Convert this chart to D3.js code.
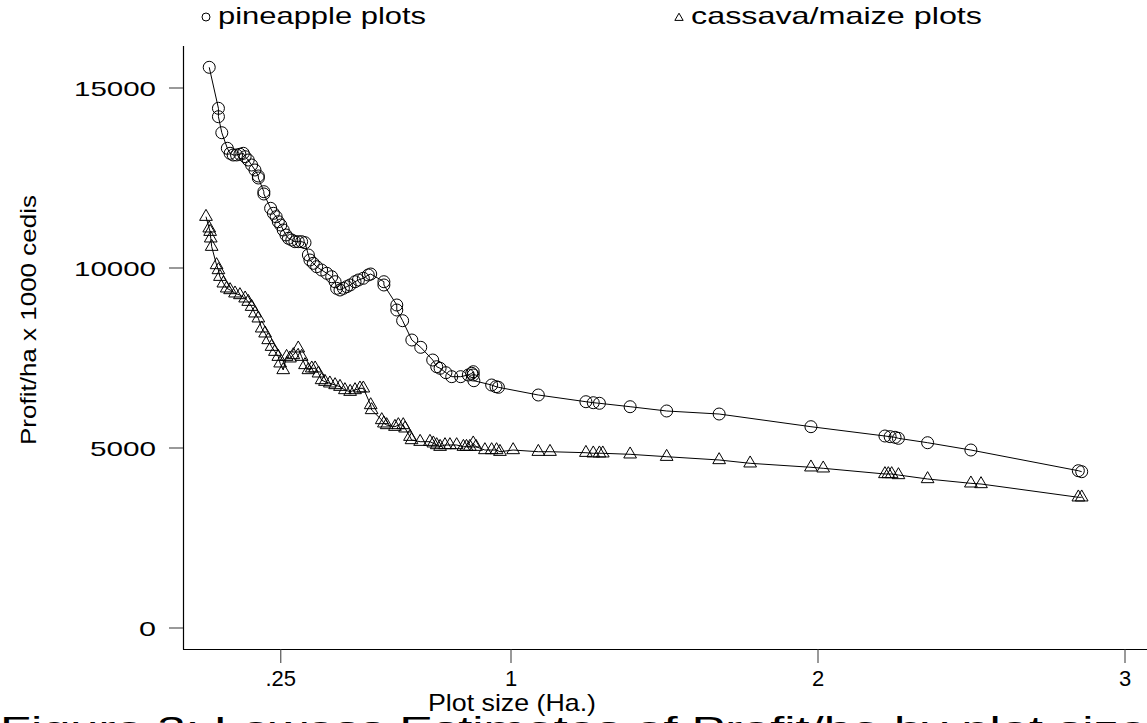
<!DOCTYPE html>
<html><head><meta charset="utf-8">
<script src="https://cdn.jsdelivr.net/npm/d3@7"></script>
<style>body{margin:0;background:#fff;} svg{display:block;}</style>
</head><body>
<svg id="c" width="1147" height="723"></svg>
<script>
// Pineapple plots: plot size (ha) and smoothed profit/ha (x1000 cedis)
const pineSize = [0.017,0.047,0.047,0.058,0.076,0.085,0.095,0.106,0.117,0.128,0.134,0.144,0.155,0.166,0.177,0.177,0.195,0.195,0.217,0.226,0.235,0.242,0.250,0.258,0.267,0.275,0.286,0.296,0.307,0.318,0.329,0.340,0.345,0.356,0.367,0.383,0.400,0.416,0.427,0.432,0.443,0.454,0.465,0.476,0.492,0.503,0.519,0.535,0.543,0.586,0.586,0.628,0.628,0.647,0.677,0.706,0.745,0.758,0.769,0.788,0.807,0.836,0.861,0.872,0.877,0.877,0.879,0.937,0.951,0.959,1.089,1.244,1.268,1.288,1.388,1.507,1.678,1.977,2.218,2.235,2.251,2.262,2.357,2.498,2.848,2.859];
const pineProfit = [15575,14436,14203,13758,13325,13186,13139,13140,13160,13186,13092,13000,12861,12722,12556,12500,12120,12056,11658,11519,11425,11286,11194,11056,10917,10825,10778,10731,10731,10731,10703,10361,10222,10130,10036,9944,9853,9758,9619,9436,9389,9436,9481,9528,9619,9667,9714,9806,9833,9619,9528,8972,8833,8536,8000,7797,7444,7258,7214,7092,6981,6981,7028,7075,7119,7028,6869,6750,6703,6686,6472,6286,6258,6242,6147,6028,5944,5592,5333,5314,5297,5269,5147,4944,4369,4342];
// Cassava/maize plots
const cassSize = [0.0065,0.017,0.020,0.022,0.025,0.041,0.047,0.052,0.063,0.074,0.085,0.101,0.117,0.134,0.144,0.155,0.166,0.177,0.188,0.199,0.209,0.220,0.231,0.242,0.248,0.258,0.269,0.280,0.291,0.307,0.318,0.329,0.340,0.351,0.362,0.373,0.383,0.394,0.410,0.427,0.443,0.459,0.476,0.492,0.508,0.519,0.543,0.546,0.579,0.586,0.595,0.622,0.633,0.649,0.655,0.671,0.676,0.704,0.736,0.747,0.758,0.769,0.785,0.801,0.823,0.845,0.855,0.866,0.877,0.886,0.915,0.937,0.953,0.964,1.007,1.089,1.127,1.244,1.268,1.288,1.299,1.388,1.507,1.678,1.779,1.977,2.017,2.218,2.229,2.240,2.262,2.357,2.498,2.531,2.848,2.859];
const cassProfit = [11425,11103,11008,10825,10592,10083,9944,9758,9575,9436,9389,9297,9250,9158,9064,8925,8742,8603,8325,8186,8000,7814,7675,7536,7353,7167,7536,7492,7583,7769,7536,7306,7167,7214,7214,7075,6889,6842,6797,6750,6703,6611,6564,6611,6658,6658,6194,6056,5778,5686,5639,5592,5639,5639,5547,5314,5222,5175,5175,5131,5083,5036,5083,5083,5083,5036,5036,5036,5131,5036,4944,4944,4944,4897,4944,4897,4897,4869,4853,4853,4853,4825,4758,4667,4575,4464,4436,4278,4278,4278,4250,4139,4019,4000,3631,3631];
const xTicks = [0.25, 1, 2, 3];
const xTickLabels = [".25", "1", "2", "3"];
const yTicks = [0, 5000, 10000, 15000];
const yTickLabels = ["0", "5000", "10000", "15000"];
const seriesNames = ["pineapple plots", "cassava/maize plots"];

const svg = d3.select("#c");
const x = d3.scaleLinear().domain([0, 3]).range([204, 1125]);
const y = d3.scaleLinear().domain([0, 15000]).range([628, 88]);
const FONT = "'Liberation Sans', Arial, sans-serif";

function txt(s, px, py, size, width, anchor) {
  const t = svg.append("text").attr("x", px).attr("y", py)
    .attr("font-family", FONT).attr("font-size", size)
    .attr("text-anchor", anchor || "start").attr("fill", "#000").text(s);
  if (width) t.attr("textLength", width).attr("lengthAdjust", "spacingAndGlyphs");
  return t;
}

// axes lines
svg.append("line").attr("x1", 183.5).attr("x2", 183.5).attr("y1", 46).attr("y2", 649.5).attr("stroke", "#000").attr("stroke-width", 1.2);
svg.append("line").attr("x1", 183).attr("x2", 1147).attr("y1", 649.5).attr("y2", 649.5).attr("stroke", "#000").attr("stroke-width", 1.2);

// y ticks
const yWidths = {"0": 17, "5000": 66, "10000": 82, "15000": 82};
yTicks.forEach((v, i) => {
  svg.append("line").attr("x1", 169).attr("x2", 183).attr("y1", y(v)).attr("y2", y(v)).attr("stroke", "#555").attr("stroke-width", 1.2);
  txt(yTickLabels[i], 156, y(v) + 7.5, 21, yWidths[yTickLabels[i]], "end");
});
// x ticks
xTicks.forEach((v, i) => {
  svg.append("line").attr("x1", x(v)).attr("x2", x(v)).attr("y1", 649.5).attr("y2", 663).attr("stroke", "#555").attr("stroke-width", 1.2);
  txt(xTickLabels[i], x(v), 686, 22, null, "middle");
});

// axis titles
txt("Plot size (Ha.)", 512, 711, 24, 168, "middle");
svg.append("text").attr("transform", "translate(36,320) rotate(-90)")
  .attr("font-family", FONT).attr("font-size", 22).attr("text-anchor", "middle")
  .attr("textLength", 250).attr("lengthAdjust", "spacingAndGlyphs")
  .text("Profit/ha x 1000 cedis");

// lines
const line = d3.line().x(d => x(d[0])).y(d => y(d[1]));
const pine = pineSize.map((s, i) => [s, pineProfit[i]]);
const cass = cassSize.map((s, i) => [s, cassProfit[i]]);
[pine, cass].forEach(data => {
  svg.append("path").datum(data).attr("d", line).attr("fill", "none").attr("stroke", "#000").attr("stroke-width", 1);
});

// markers
svg.append("g").selectAll("circle").data(pine).join("circle")
  .attr("cx", d => x(d[0])).attr("cy", d => y(d[1])).attr("r", 6)
  .attr("fill", "none").attr("stroke", "#000").attr("stroke-width", 1);
const tri = d3.symbol().type(d3.symbolTriangle).size(70);
svg.append("g").selectAll("path").data(cass).join("path")
  .attr("transform", d => `translate(${x(d[0])},${y(d[1])})`).attr("d", tri)
  .attr("fill", "none").attr("stroke", "#000").attr("stroke-width", 1);

// legend
svg.append("circle").attr("cx", 206).attr("cy", 17).attr("r", 4).attr("fill", "none").attr("stroke", "#000");
txt(seriesNames[0], 218, 24, 24, 208, "start");
svg.append("path").attr("transform", "translate(679,18)").attr("d", d3.symbol().type(d3.symbolTriangle).size(30)).attr("fill", "none").attr("stroke", "#000");
txt(seriesNames[1], 691, 24, 24, 291, "start");

// caption (cut off at bottom in the source)
txt("Figure 3: Lowess Estimates of Profit/ha by plot size", 0, 740, 34, 1147, "start");
</script>
</body></html>
